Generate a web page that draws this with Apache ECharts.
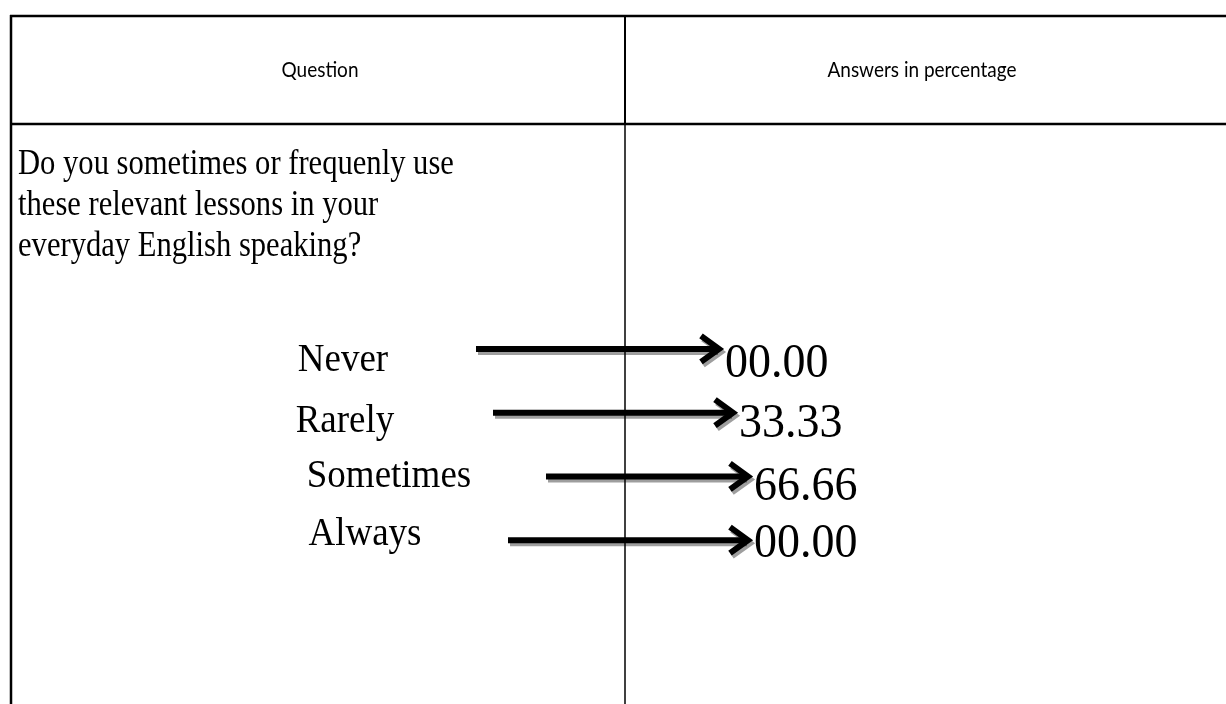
<!DOCTYPE html>
<html><head><meta charset="utf-8">
<script src="https://cdn.jsdelivr.net/npm/echarts@6/dist/echarts.min.js"></script>
<style>html,body{margin:0;padding:0;background:#fff}#c{width:1226px;height:704px}</style>
</head><body><div id="c"></div>
<script>
// ---- data ----
const headers = ['Question', 'Answers in percentage'];
const questionLines = ['Do you sometimes or frequenly use', 'these relevant lessons in your', 'everyday English speaking?'];
const answerLabels = ['Never', 'Rarely', 'Sometimes', 'Always'];
const answerValues = [0.00, 33.33, 66.66, 0.00];

// ---- layout (pixel positions along hidden x axis) ----
const labelX = [343, 345, 389, 365];
const labelDy = [11, 9, 0, -6];
const arrowStart = [476, 493, 546, 508];
const arrowEnd = [721, 735, 750, 750];
const valueX = [725, 739, 754, 754];
const valueDy = [15, 12, 11, 4];

const serif = '"Liberation Serif","Times New Roman",serif';
const chart = echarts.init(document.getElementById('c'), null, {renderer: 'canvas'});
const fmt = v => v.toFixed(2).padStart(5, '0');

const W = 1226, H = 704;
const lineStyle = w => ({stroke: '#000', lineWidth: w});
const graphics = [
  {type: 'line', shape: {x1: 10, y1: 16, x2: W, y2: 16}, style: lineStyle(2.5)},
  {type: 'line', shape: {x1: 11, y1: 15, x2: 11, y2: H}, style: lineStyle(2.5)},
  {type: 'line', shape: {x1: 10, y1: 124, x2: W, y2: 124}, style: lineStyle(2.5)},
  {type: 'line', shape: {x1: 625, y1: 15, x2: 625, y2: 124}, style: lineStyle(2)},
  {type: 'line', shape: {x1: 625, y1: 124, x2: 625, y2: H}, style: lineStyle(1.5)},
  {type: 'text', x: 320, y: 70, scaleY: 1.1, style: {text: headers[0], font: '19px Lato', fill: '#000', textAlign: 'center', textVerticalAlign: 'middle'}},
  {type: 'text', x: 922, y: 70, scaleY: 1.1, style: {text: headers[1], font: '19px Lato', fill: '#000', textAlign: 'center', textVerticalAlign: 'middle'}}
];
questionLines.forEach((t, k) => {
  graphics.push({type: 'text', x: 18, y: 165 + k * 41, scaleY: 1.14, style: {text: t, font: '30.6px ' + serif, fill: '#000', textAlign: 'left', textVerticalAlign: 'middle'}});
});

chart.setOption({
  animation: false,
  backgroundColor: '#fff',
  grid: {left: 0, right: 0, top: 317, bottom: 132},
  xAxis: {type: 'value', min: 0, max: W, show: false},
  yAxis: {type: 'category', data: answerLabels, inverse: true, show: false},
  graphic: graphics,
  series: [{
    type: 'custom',
    data: answerValues.map((v, i) => [i, v]),
    encode: {y: 0},
    renderItem: function (params, api) {
      const i = api.value(0);
      const v = api.value(1);
      const y = api.coord([0, i])[1];
      const xs = api.coord([arrowStart[i], i])[0];
      const xe = api.coord([arrowEnd[i], i])[0];
      const xl = api.coord([labelX[i], i])[0];
      const xv = api.coord([valueX[i], i])[0];
      const shadow = {shadowColor: 'rgba(0,0,0,0.38)', shadowOffsetX: 2, shadowOffsetY: 3, shadowBlur: 0};
      return {
        type: 'group',
        children: [
          {type: 'line', shape: {x1: xs, y1: y, x2: xe - 5, y2: y}, style: Object.assign({stroke: '#000', lineWidth: 6}, shadow)},
          {type: 'polyline', shape: {points: [[xe - 20, y - 13], [xe - 2, y], [xe - 20, y + 13]]}, style: Object.assign({stroke: '#000', fill: null, lineWidth: 6, lineJoin: 'miter'}, shadow)},
          {type: 'text', x: xl, y: y + labelDy[i], scaleY: 1.1, style: {text: answerLabels[i], font: '37px ' + serif, fill: '#000', textAlign: 'center', textVerticalAlign: 'middle'}},
          {type: 'text', x: xv, y: y + valueDy[i], scaleY: 1.05, style: {text: fmt(v), font: '46px ' + serif, fill: '#000', textAlign: 'left', textVerticalAlign: 'middle'}}
        ]
      };
    }
  }]
});
</script></body></html>
